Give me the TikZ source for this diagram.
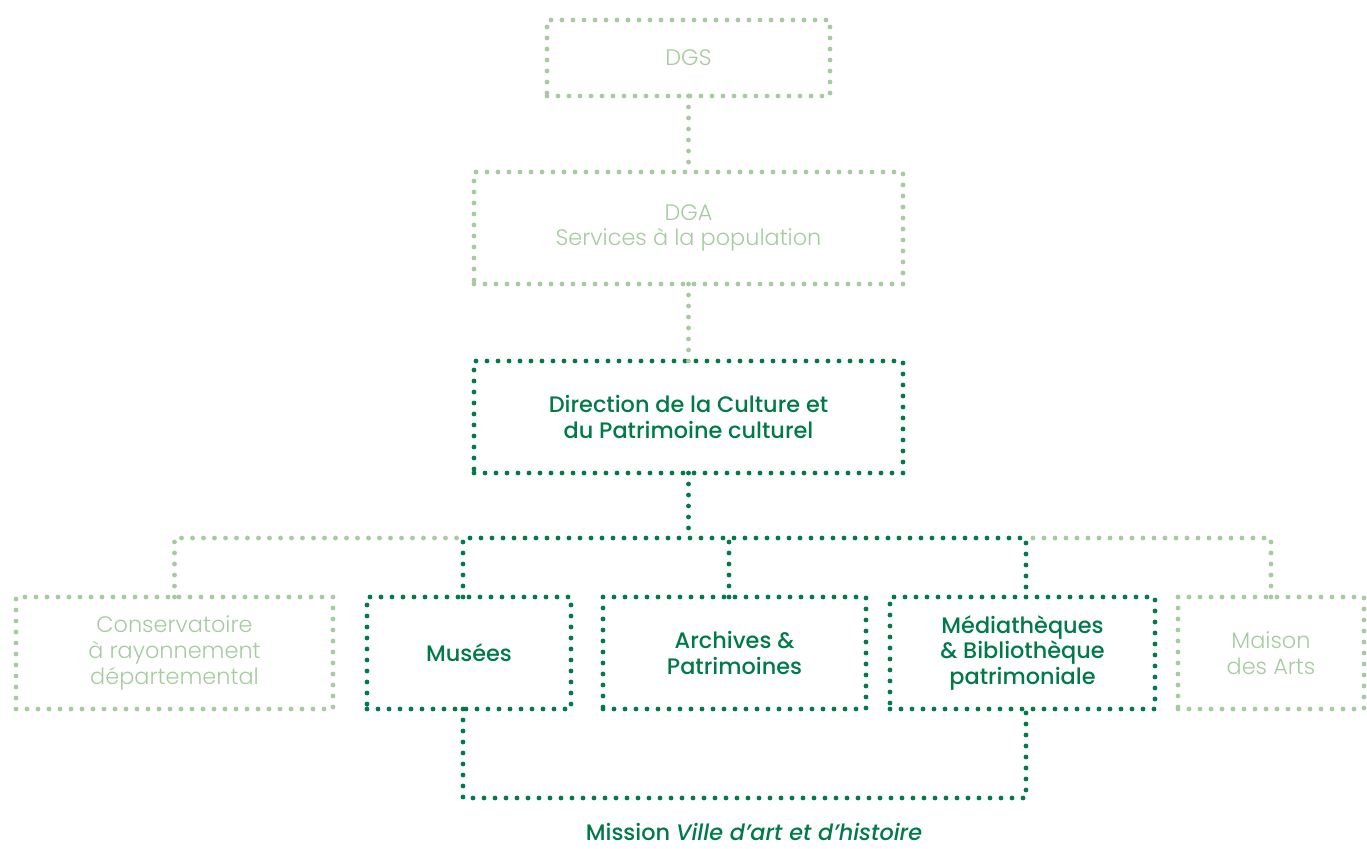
\documentclass[tikz,border=0pt]{standalone}
\usepackage{fontspec}
\setmainfont{Poppins}[UprightFont=* Light, ItalicFont=* Light Italic, BoldFont=* Medium, BoldItalicFont=* Medium Italic]
\usetikzlibrary{positioning}
\definecolor{paleleaf}{RGB}{166,203,160}
\definecolor{deepleaf}{RGB}{0,122,72}

\begin{document}
\begin{tikzpicture}[x=0.5pt, y=-0.5pt,
        dots/.style={line width=2.4pt, line cap=round, dash pattern=on 0pt off 5.5pt},
        pale/.style={rectangle, dots, draw=paleleaf, text=paleleaf, align=center, inner sep=0pt, outer sep=0pt, font=\fontsize{11.2}{12.8}\selectfont},
        deep/.style={rectangle, dots, draw=deepleaf, text=deepleaf, align=center, inner sep=0pt, outer sep=0pt, font=\fontsize{11.2}{12.8}\selectfont\bfseries},
        paleline/.style={dots, draw=paleleaf},
        deepline/.style={dots, draw=deepleaf}
      ]
        \useasboundingbox (0,0) rectangle (1367,848);

        \node[pale, minimum width=141.5pt, minimum height=38pt]  (dgs)  at (688.5,58)             {DGS};
        \node[pale, minimum width=214.5pt, minimum height=56pt]  (dga)  [below=38pt of dgs]     {DGA\\Services à la population};
        \node[deep, minimum width=214.5pt, minimum height=56pt]  (dcp)  [below=38.5pt of dga]   {Direction de la Culture et\\du Patrimoine culturel};

        \node[pale, minimum width=158.5pt, minimum height=56pt]  (crd)      at (174.5,653)              {Conservatoire\\à rayonnement\\départemental};
        \node[deep, minimum width=102pt, minimum height=56pt]    (musees)   [right=17pt of crd]        {Musées};
        \node[deep, minimum width=131.5pt, minimum height=56pt]  (archives) [right=16pt of musees]     {Archives \&\\Patrimoines};
        \node[deep, minimum width=132.5pt, minimum height=56pt]  (media)    [right=12pt of archives]   {Médiathèques\\\& Bibliothèque\\patrimoniale};
        \node[pale, minimum width=93pt, minimum height=56pt]     (maison)   [right=11.5pt of media]    {Maison\\des Arts};

        \coordinate (fork) at (688.5,538);
        \coordinate (musees top) at ([xshift=-3pt]musees.north);
        \coordinate (media top)  at ([xshift=1.75pt]media.north);

        \draw[paleline] (dgs) -- (dga);
        \draw[paleline] (dga) -- (dcp);
        \draw[paleline] (crd.north) |- (musees top |- fork);
        \draw[paleline] (maison.north) |- (media top |- fork);
        \draw[deepline] (dcp) -- (fork);
        \draw[deepline] (musees top) |- (fork) -| (media top);
        \draw[deepline] ([xshift=-2.75pt]archives.north) -- ([xshift=-2.75pt]archives.north |- fork);

        % bracket under the services
        \draw[deepline] ([xshift=-3pt]musees.south) -- ++(0,89) -| ([xshift=1.75pt]media.south);
        \node[text=deepleaf, font=\fontsize{11.2}{12.8}\selectfont\bfseries] (mission) at (754,832) {Mission \textit{Ville d’art et d’histoire}};
      \end{tikzpicture}
\end{document}
